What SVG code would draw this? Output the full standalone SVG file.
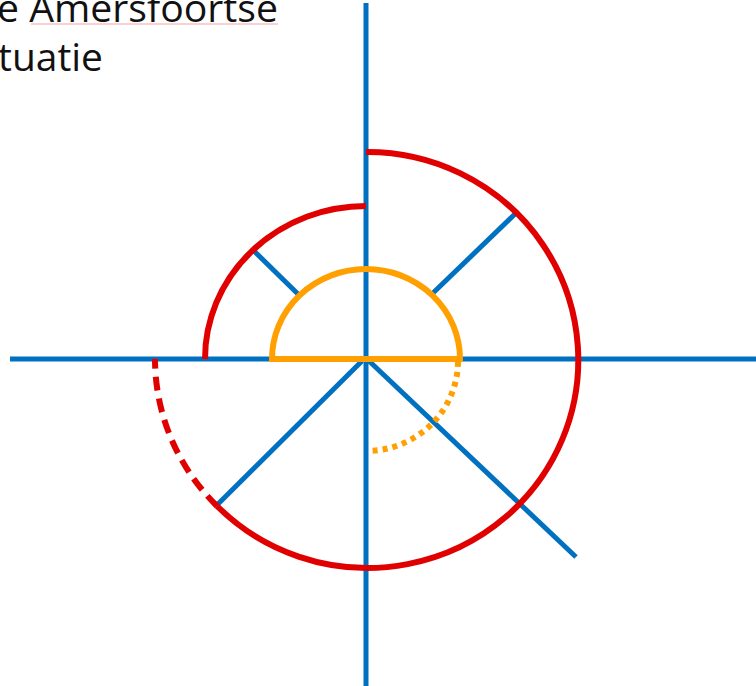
<svg xmlns="http://www.w3.org/2000/svg" width="756" height="686" viewBox="0 0 756 686">
<style>
.b{stroke:#0070C0;stroke-width:5;fill:none}
.r{stroke:#E00000;stroke-width:6;fill:none}
.o{stroke:#FFA000;stroke-width:6;fill:none}
.t{font-family:"Open Sans","DejaVu Sans",sans-serif;font-size:38px;fill:#111}
</style>
<rect width="756" height="686" fill="#fff"/>
<g id="title">
<text class="t" x="-3" y="22" textLength="281" lengthAdjust="spacingAndGlyphs">e Amersfoortse</text>
<text class="t" x="-2" y="71" textLength="105" lengthAdjust="spacingAndGlyphs">tuatie</text>
<line x1="31" y1="24" x2="278" y2="24" stroke="#f4a0a0" stroke-width="1"/>
</g>
<g id="connectors">
<line class="b" x1="366" y1="3" x2="366" y2="686"/>
<line class="b" x1="10" y1="359" x2="756" y2="359"/>
<line class="b" x1="433" y1="293" x2="516" y2="213"/>
<line class="b" x1="253" y1="250" x2="300" y2="296"/>
<line class="b" x1="362" y1="361" x2="216" y2="506"/>
<line class="b" x1="368" y1="360" x2="576" y2="557"/>
</g>
<g id="inner-arc">
<path class="o" d="M 272 359 A 94 90 0 0 1 460 359 Z"/>
<path class="o" d="M 458 362 A 92 90 0 0 1 368 451" stroke-dasharray="5 5"/>
</g>
<g id="mid-arc">
<path class="r" d="M 205 359 A 161 153 0 0 1 366 206"/>
</g>
<g id="outer-arc">
<path class="r" d="M 366 152 A 211 208 0 1 1 217 506"/>
<path class="r" d="M 217 506 A 211 208 0 0 1 155 359" stroke-dasharray="14 8"/>
</g>
</svg>
